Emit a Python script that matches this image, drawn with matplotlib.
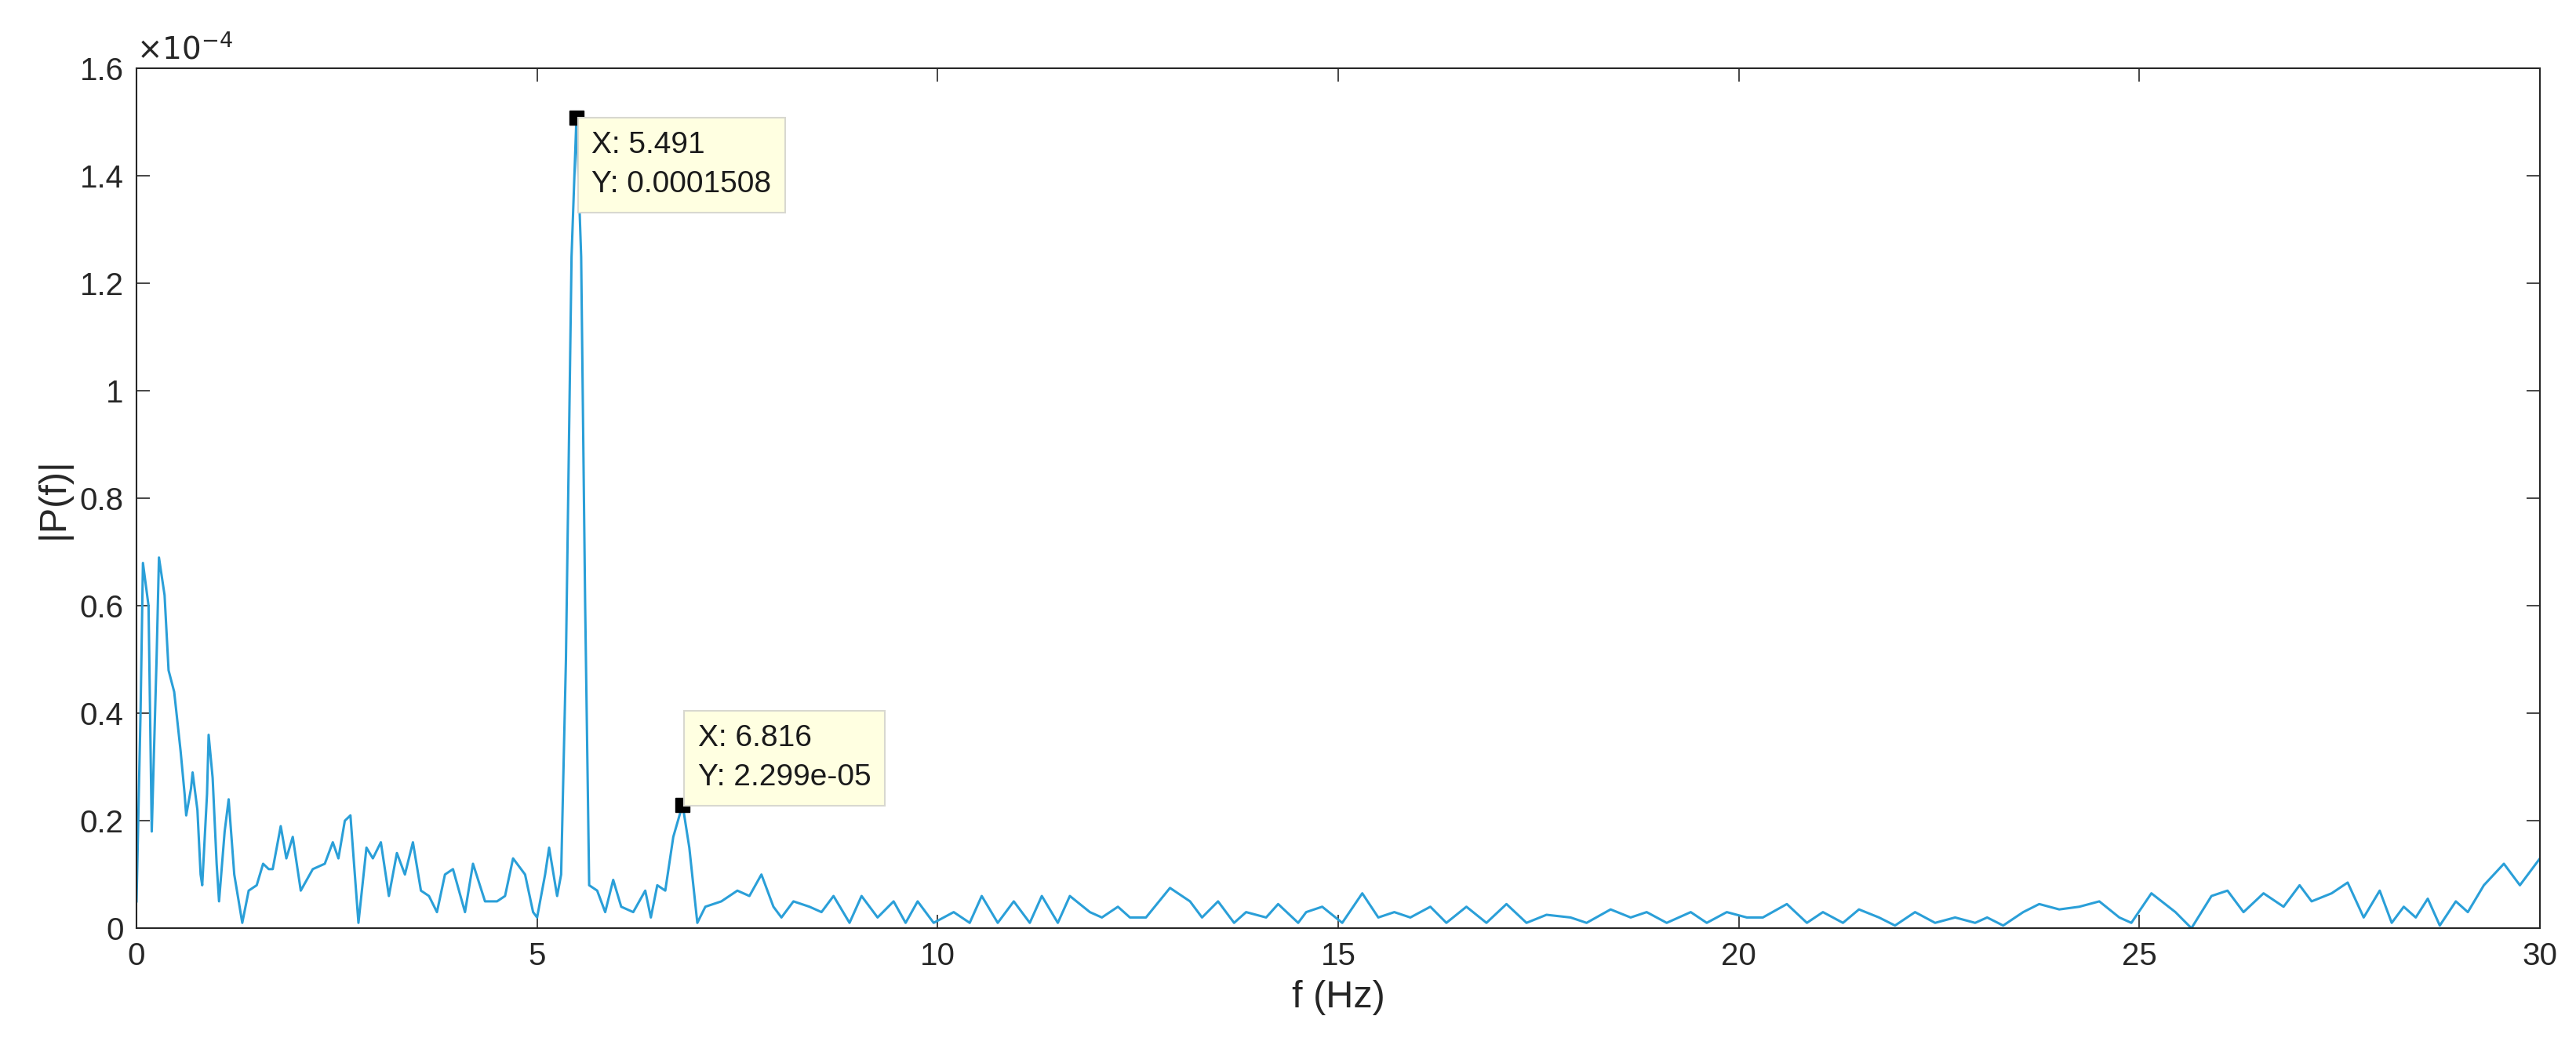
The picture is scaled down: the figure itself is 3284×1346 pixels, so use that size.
import matplotlib
matplotlib.use("Agg")
import matplotlib.pyplot as plt

plt.rcParams['font.family'] = ['Liberation Sans', 'DejaVu Sans']

freq = [0, 0.05, 0.08, 0.15, 0.19, 0.25, 0.28, 0.35, 0.4, 0.47, 0.55, 0.6, 0.62, 0.68, 0.7, 0.76, 0.8, 0.82,
        0.88, 0.9, 0.95, 1.0, 1.03, 1.1, 1.15, 1.22, 1.32, 1.4, 1.5, 1.58, 1.65, 1.7, 1.8, 1.87, 1.95, 2.05,
        2.2, 2.35, 2.45, 2.52, 2.6, 2.67, 2.77, 2.87, 2.95, 3.05, 3.15, 3.25, 3.35, 3.45, 3.55, 3.65, 3.75,
        3.85, 3.95, 4.1, 4.2, 4.35, 4.5, 4.6, 4.7, 4.85, 4.95, 5.0, 5.1, 5.15, 5.25, 5.3, 5.36, 5.43, 5.491,
        5.55, 5.6, 5.65, 5.75, 5.85, 5.95, 6.05, 6.2, 6.35, 6.42, 6.5, 6.6, 6.7, 6.816, 6.9, 7.0, 7.1, 7.3,
        7.5, 7.65, 7.8, 7.95, 8.05, 8.2, 8.4, 8.55, 8.7, 8.9, 9.05, 9.25, 9.45, 9.6, 9.75, 9.95, 10.2, 10.4,
        10.55, 10.75, 10.95, 11.15, 11.3, 11.5, 11.65, 11.9, 12.05, 12.25, 12.4, 12.6, 12.9, 13.15, 13.3,
        13.5, 13.7, 13.85, 14.1, 14.25, 14.5, 14.6, 14.8, 15.05, 15.3, 15.5, 15.7, 15.9, 16.15, 16.35, 16.6,
        16.85, 17.1, 17.35, 17.6, 17.9, 18.1, 18.4, 18.65, 18.85, 19.1, 19.4, 19.6, 19.85, 20.1, 20.3, 20.6,
        20.85, 21.05, 21.3, 21.5, 21.75, 21.95, 22.2, 22.45, 22.7, 22.95, 23.1, 23.3, 23.55, 23.75, 24.0,
        24.25, 24.5, 24.75, 24.9, 25.15, 25.45, 25.65, 25.9, 26.1, 26.3, 26.55, 26.8, 27.0, 27.15, 27.4,
        27.6, 27.8, 28.0, 28.15, 28.3, 28.45, 28.6, 28.75, 28.95, 29.1, 29.3, 29.55, 29.75, 29.9, 30.0]
power_e4 = [0.05, 0.4, 0.68, 0.6, 0.18, 0.5, 0.69, 0.62, 0.48, 0.44, 0.33, 0.25, 0.21, 0.26, 0.29, 0.22, 0.1, 0.08,
            0.25, 0.36, 0.28, 0.12, 0.05, 0.18, 0.24, 0.1, 0.01, 0.07, 0.08, 0.12, 0.11, 0.11, 0.19, 0.13, 0.17, 0.07,
            0.11, 0.12, 0.16, 0.13, 0.2, 0.21, 0.01, 0.15, 0.13, 0.16, 0.06, 0.14, 0.1, 0.16, 0.07, 0.06, 0.03,
            0.1, 0.11, 0.03, 0.12, 0.05, 0.05, 0.06, 0.13, 0.1, 0.03, 0.02, 0.1, 0.15, 0.06, 0.1, 0.5, 1.25, 1.508,
            1.25, 0.6, 0.08, 0.07, 0.03, 0.09, 0.04, 0.03, 0.07, 0.02, 0.08, 0.07, 0.17, 0.2299, 0.15, 0.01, 0.04, 0.05,
            0.07, 0.06, 0.1, 0.04, 0.02, 0.05, 0.04, 0.03, 0.06, 0.01, 0.06, 0.02, 0.05, 0.01, 0.05, 0.01, 0.03, 0.01,
            0.06, 0.01, 0.05, 0.01, 0.06, 0.01, 0.06, 0.03, 0.02, 0.04, 0.02, 0.02, 0.075, 0.05, 0.02,
            0.05, 0.01, 0.03, 0.02, 0.045, 0.01, 0.03, 0.04, 0.01, 0.065, 0.02, 0.03, 0.02, 0.04, 0.01, 0.04,
            0.01, 0.045, 0.01, 0.025, 0.02, 0.01, 0.035, 0.02, 0.03, 0.01, 0.03, 0.01, 0.03, 0.02, 0.02, 0.045,
            0.01, 0.03, 0.01, 0.035, 0.02, 0.005, 0.03, 0.01, 0.02, 0.01, 0.02, 0.005, 0.03, 0.045, 0.035,
            0.04, 0.05, 0.02, 0.01, 0.065, 0.03, 0.0, 0.06, 0.07, 0.03, 0.065, 0.04, 0.08, 0.05, 0.065,
            0.085, 0.02, 0.07, 0.01, 0.04, 0.02, 0.055, 0.005, 0.05, 0.03, 0.08, 0.12, 0.08, 0.11, 0.13]
tip_x = [5.491, 6.816]
tip_y = [1.508, 0.2299]
tip_labels = ["X: 5.491\nY: 0.0001508", "X: 6.816\nY: 2.299e-05"]
xticks = [0, 5, 10, 15, 20, 25, 30]
yticks = [0, 0.2, 0.4, 0.6, 0.8, 1.0, 1.2, 1.4, 1.6]
ytick_labels = ["0", "0.2", "0.4", "0.6", "0.8", "1", "1.2", "1.4", "1.6"]

fig = plt.figure(figsize=(32.84, 13.46), dpi=100)
ax = fig.add_axes([0.053, 0.121, 0.933, 0.814])
ax.plot(freq, power_e4, color='#2a9fd8', lw=2.2)
ax.plot(tip_x, tip_y, 's', color='black', ms=13, zorder=5)
offsets = [(14, -12), (14, 12)]
vas = ['top', 'bottom']
for x, y, t, off, va in zip(tip_x, tip_y, tip_labels, offsets, vas):
    ax.annotate(t, (x, y), xytext=off, textcoords='offset points', ha='left', va=va,
                fontsize=28, linespacing=1.5, color='#1a1a1a', zorder=6,
                bbox=dict(boxstyle='square,pad=0.45', fc='#ffffe1', ec='#d8d8d0', lw=1.5))
ax.set_xlim(0, 30)
ax.set_ylim(0, 1.6)
ax.set_xticks(xticks)
ax.set_yticks(yticks)
ax.set_yticklabels(ytick_labels)
ax.tick_params(direction='in', length=12, width=1.2, labelsize=29, colors='#262626',
               top=True, right=True, pad=12)
for s in ax.spines.values():
    s.set_color('#262626'); s.set_linewidth(1.5)
ax.set_xlabel('f (Hz)', fontsize=35, color='#262626', labelpad=8)
ax.set_ylabel('|P(f)|', fontsize=35, color='#262626', labelpad=8)
ax.text(0.0, 1.005, r'$\times10^{-4}$', transform=ax.transAxes, fontsize=28, color='#262626',
        ha='left', va='bottom')
fig.savefig('out.png', dpi=100, facecolor='white')
